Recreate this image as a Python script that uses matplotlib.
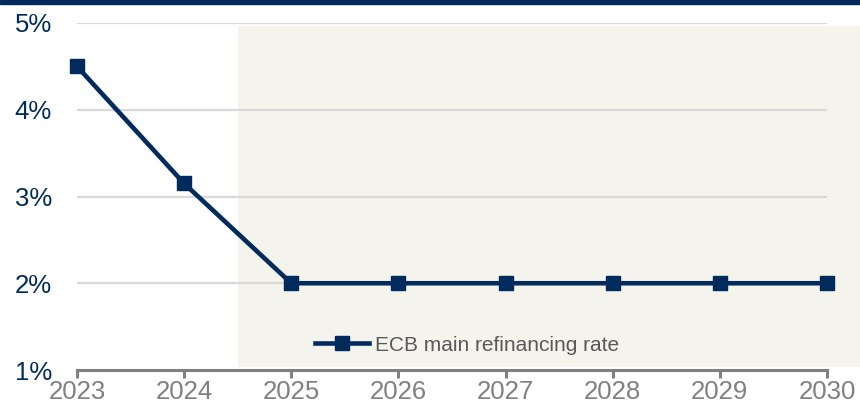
import numpy as np
import matplotlib
matplotlib.use('Agg')
from matplotlib import pyplot as plt
from matplotlib.patches import Rectangle

# Data

years = [2023, 2024, 2025, 2026, 2027, 2028, 2029, 2030]
rate = [4.5, 3.15, 2.0, 2.0, 2.0, 2.0, 2.0, 2.0]
yticks = [1, 2, 3, 4, 5]
ytick_labels = ['1%', '2%', '3%', '4%', '5%']
forecast_start = 2024.5
series_label = 'ECB main refinancing rate'

navy = '#002B5C'
grey = '#808080'
shade = '#F4F3EC'

plt.rcParams['font.family'] = ['Liberation Sans', 'DejaVu Sans']

fig = plt.figure(figsize = (8.6, 4.04), dpi = 100)
ax = fig.add_axes([77/860, 34/404, 783/860, 347/404])

# Top bar
fig.patches.append(Rectangle((0, 1 - 4/404), 1, 4/404, transform = fig.transFigure,
                             color = navy, zorder = 10))

ax.set_xlim(years[0], years[0] + 783/107.14)
ax.set_ylim(yticks[0], yticks[-1])

# Shaded forecast area
ax.axvspan(forecast_start, ax.get_xlim()[1], ymin = 0.009, ymax = 0.991, color = shade, lw = 0, zorder = 0)

# Gridlines
ax.hlines(yticks[1:], years[0], years[-1], color = '#D9D9D9', lw = 1.6, zorder = 1)

ax.plot(years, rate, color = navy, lw = 3.3, marker = 's', markersize = 10.5,
        label = series_label, zorder = 3, clip_on = False)

for s in ['top', 'right', 'left']:
    ax.spines[s].set_visible(False)
ax.spines['bottom'].set_color(grey)
ax.spines['bottom'].set_linewidth(2.2)
ax.spines['bottom'].set_bounds(years[0], years[-1])
ax.spines['bottom'].set_zorder(4)

ax.set_xticks(years)
ax.set_xticklabels([str(y) for y in years])
ax.set_yticks(yticks)
ax.set_yticklabels(ytick_labels)
ax.tick_params(axis = 'x', colors = grey, labelsize = 18.5, length = 6, width = 2.2, pad = 1)
ax.tick_params(axis = 'y', colors = navy, labelsize = 18.5, length = 0, pad = 18)
ax.set_facecolor('white')

lgd = ax.legend(loc = 'center left', bbox_to_anchor = (0.304, 0.072), frameon = False,
                fontsize = 15, handlelength = 2.6, handletextpad = 0.3, borderpad = 0, borderaxespad = 0)
for t in lgd.get_texts():
    t.set_color('#595959')

plt.savefig('out.png', dpi = 100)
